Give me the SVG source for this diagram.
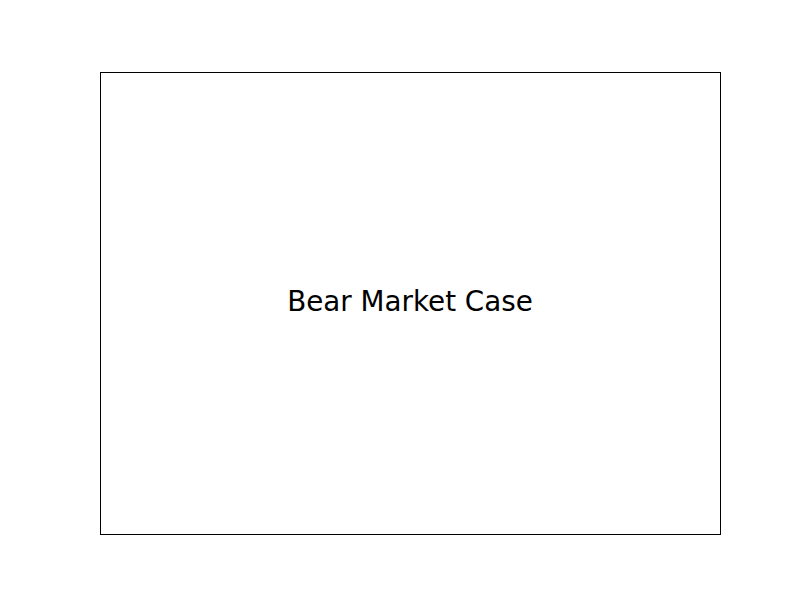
<svg xmlns="http://www.w3.org/2000/svg" width="800" height="600" viewBox="0 0 800 600">
<style>
.frame{fill:none;stroke:#000;stroke-width:1}
.title{font-family:"DejaVu Sans",sans-serif;font-size:27.78px;fill:#000;text-anchor:middle}
</style>
<rect width="800" height="600" fill="#fff"/>
<g id="axes">
<rect class="frame" x="100.5" y="72.5" width="620" height="462"/>
</g>
<g id="label">
<text class="title" x="410" y="311">Bear Market Case</text>
</g>
</svg>
